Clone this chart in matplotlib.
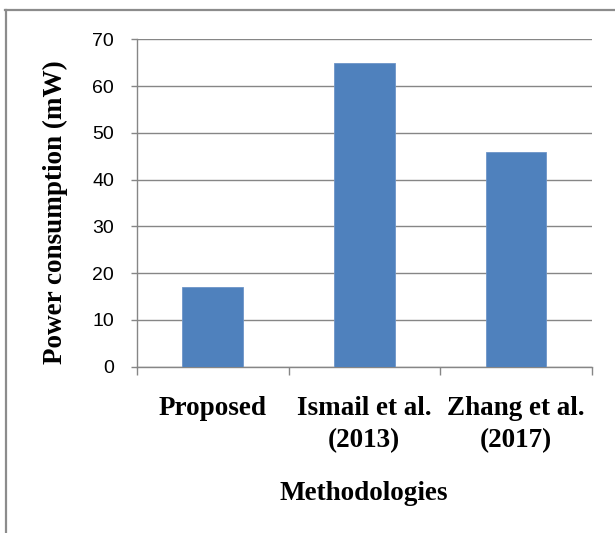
import matplotlib.pyplot as plt
from matplotlib.lines import Line2D

categories = ['Proposed', 'Ismail et al.\n(2013)', 'Zhang et al.\n(2017)']
power_mw = [17, 65, 46]
y_ticks = [0, 10, 20, 30, 40, 50, 60, 70]

fig = plt.figure(figsize=(6.15, 5.33), dpi=100)
ax = fig.add_axes([137 / 615, 1 - 366.7 / 533, (591.7 - 137) / 615, (366.7 - 39.3) / 533])

grey = '#868686'
x = list(range(len(categories)))
ax.bar(x, power_mw, width=0.4, color='#4F81BD', edgecolor='#6D95C8', linewidth=0.6, zorder=3)

ax.set_xlim(-0.5, len(categories) - 0.5)
ax.set_ylim(0, 70)
ax.set_yticks(y_ticks)
ax.set_yticklabels([str(v) for v in y_ticks], fontname='Liberation Sans', fontsize=14)
ax.yaxis.grid(True, color=grey, linewidth=1.0, zorder=0)
ax.tick_params(axis='y', length=4.5, width=1.0, color=grey, pad=12)

ax.set_xticks(x)
ax.set_xticklabels(categories, fontname='Liberation Serif', fontweight='bold', fontsize=19.5,
                   linespacing=1.4)
ax.tick_params(axis='x', which='major', length=0, pad=21)
ax.set_xticks([-0.5, 0.5, 1.5, 2.5], minor=True)
ax.tick_params(axis='x', which='minor', length=6, width=1.0, color=grey)

for side in ['top', 'right']:
    ax.spines[side].set_visible(False)
for side in ['left', 'bottom']:
    ax.spines[side].set_color(grey)
    ax.spines[side].set_linewidth(1.0)

fig.text(55 / 615, 1 - 212 / 533, 'Power consumption (mW)', rotation=90, ha='center', va='center',
         fontname='Liberation Serif', fontweight='bold', fontsize=19.5)
fig.text(364 / 615, 1 - 493 / 533, 'Methodologies', ha='center', va='center',
         fontname='Liberation Serif', fontweight='bold', fontsize=19.5)

# outer chart frame (only top and left edges are visible in the crop)
fig.add_artist(Line2D([5 / 615, 1], [1 - 10 / 533] * 2, color='#8C8C8C', linewidth=1.6))
fig.add_artist(Line2D([6 / 615] * 2, [0, 1 - 10 / 533], color='#8C8C8C', linewidth=1.6))

fig.savefig('out.png', dpi=100)
